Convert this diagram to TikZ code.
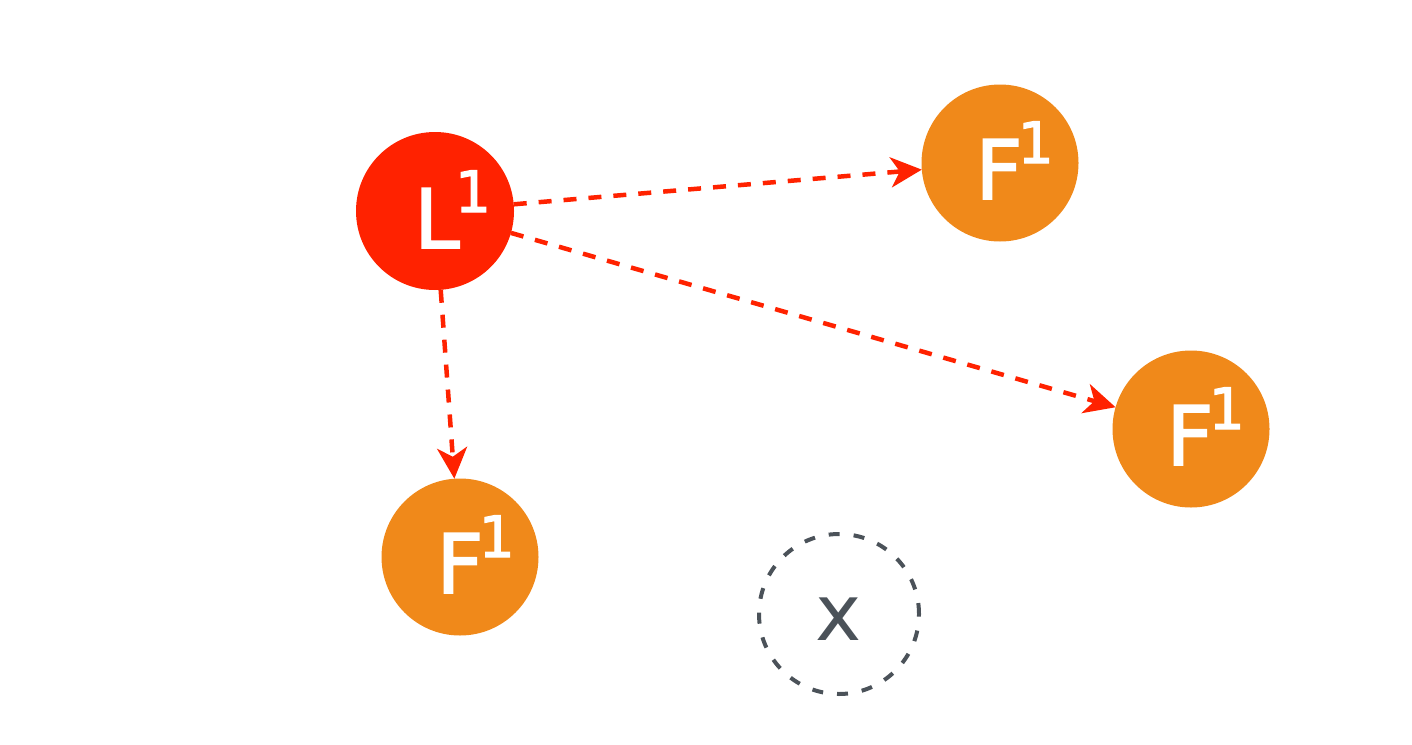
\documentclass[tikz,border=0pt]{standalone}
\usepackage{fontspec}
\setmainfont{DejaVu Sans}
\newfontfamily\lblfont{DejaVu Sans}[FakeBold=2]
\usetikzlibrary{arrows.meta}
\definecolor{lred}{HTML}{FF2200}
\definecolor{forange}{HTML}{F0891A}
\definecolor{xgray}{HTML}{4B5259}
\newcommand{\supone}{\rlap{\kern-5pt\fontsize{57}{57}\selectfont\raisebox{36pt}{1}}}
\tikzset{
  leader/.style={circle, fill=lred, minimum size=158pt, inner sep=0pt, outer sep=0pt},
  follower/.style={circle, fill=forange, minimum size=157pt, inner sep=0pt, outer sep=0pt},
  target/.style={circle, draw=xgray, line width=4pt, dash pattern=on 11pt off 14pt, minimum size=160pt, inner sep=0pt, outer sep=0pt},
  lbl/.style={text=white, inner sep=0pt, anchor=base, font=\lblfont\fontsize{82}{82}\selectfont},
  xlbl/.style={text=xgray, inner sep=0pt, anchor=base, font=\fontsize{78}{78}\selectfont},
  link/.style={draw=lred, line width=4.5pt, dash pattern=on 13pt off 12pt, -{Stealth[length=31pt, width=30pt, inset=9pt]}}
}
\begin{document}
\begin{tikzpicture}[x=1pt, y=-1pt]
\useasboundingbox (0,0) rectangle (1412,744);
\node[leader] (L) at (435,211) {};
\node[follower] (F1) at (1000,163) {};
\node[follower] (F2) at (1191,429) {};
\node[follower] (F3) at (460,557) {};
\node[target] (X) at (839,614) {};
\node[lbl] (Lt) at (437,248) {L\supone};
\node[lbl] (F1t) at (999,199) {F\supone};
\node[lbl] (F2t) at (1190,465) {F\supone};
\node[lbl] (F3t) at (460,593) {F\supone};
\node[xlbl] (Xt) at (839,640) {x};
\draw[link] (L) -- (F1);
\draw[link] (L) -- (F2);
\draw[link] (L) -- (F3);
\end{tikzpicture}
\end{document}
